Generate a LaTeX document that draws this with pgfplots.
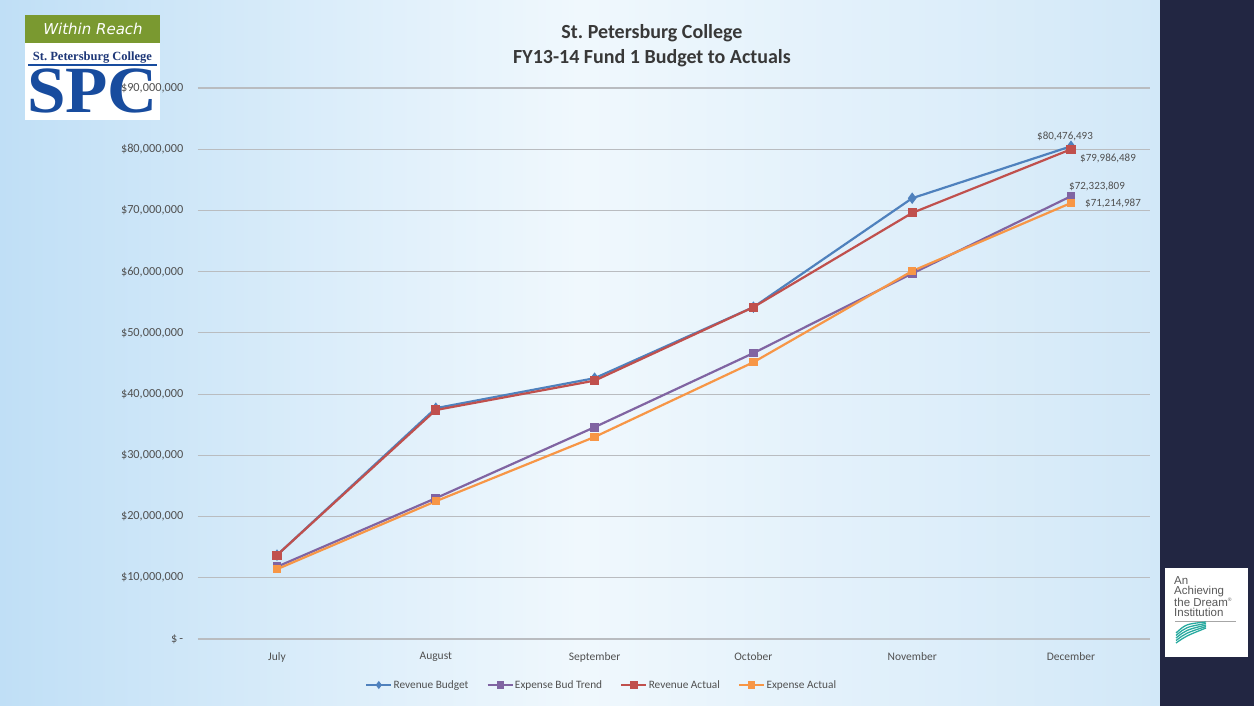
\documentclass[border=0pt]{standalone}
\usepackage{pgfplots}
\pgfplotsset{compat=1.18}
\usepackage{fontspec}
\setmainfont{Carlito}
\newfontfamily\serifb{Liberation Serif}
\newfontfamily\sansi{DejaVu Sans}
\newfontfamily\sansl{Liberation Sans}
\definecolor{rb}{RGB}{79,129,189}
\definecolor{ebt}{RGB}{128,100,162}
\definecolor{ra}{RGB}{192,80,77}
\definecolor{ea}{RGB}{247,150,70}
\definecolor{navy}{RGB}{34,38,66}
\definecolor{bgl}{RGB}{192,223,246}
\definecolor{bgm}{RGB}{240,248,253}
\definecolor{bgr}{RGB}{210,232,248}
\definecolor{txt}{RGB}{80,80,80}
\definecolor{gridgray}{RGB}{185,188,192}
\definecolor{wrgreen}{RGB}{122,153,48}
\definecolor{spcblue}{RGB}{24,76,158}
\definecolor{spcnavy}{RGB}{30,55,120}
\definecolor{teal1}{RGB}{40,170,160}
\begin{document}
\begin{tikzpicture}[x=1pt,y=1pt]
% background
\shade[left color=bgl, right color=bgr, middle color=bgm] (0pt,0pt) rectangle (1160pt,706pt);
\fill[navy] (1160pt,0pt) rectangle (1254pt,706pt);
% top-left logo
\fill[white] (25pt,586pt) rectangle (160pt,663pt);
\fill[wrgreen] (25pt,663pt) rectangle (160pt,691pt);
\node[white, font=\sansi\itshape\fontsize{15}{15}\selectfont] at (93pt,677pt) {Within Reach};
\node[spcnavy, font=\serifb\bfseries\fontsize{12.5}{13}\selectfont] at (92.5pt,648pt) {St.\ Petersburg College};
\draw[spcblue, line width=1.8pt] (28pt,641pt) -- (157pt,641pt);
\node[spcblue, anchor=base, font=\serifb\bfseries\fontsize{66}{66}\selectfont, xscale=1.05, inner sep=0pt] at (92.5pt,593pt) {SPC};
% bottom-right logo
\fill[white] (1165pt,49pt) rectangle (1248pt,138pt);
\node[anchor=north west, align=left, text=black!65, font=\sansl\fontsize{11.5}{10.5}\selectfont, inner sep=0pt] at (1174pt,130pt) {An\\Achieving\\the Dream\textsuperscript{\tiny ®}\\Institution};
\draw[black!35, line width=0.6pt] (1175pt,85pt) -- (1236pt,85pt);
\foreach \k in {0,1,2,3,4}{
  \draw[teal1, line width=1.3pt] (1176pt,63pt+2.5pt*\k) .. controls (1186pt,70pt+3pt*\k) .. (1206pt,78pt+1.5pt*\k);
}
\begin{axis}[
  at={(197.6pt,67pt)}, anchor=south west, scale only axis,
  width=952.8pt, height=551pt,
  xmin=-0.5, xmax=5.5, ymin=0, ymax=90000000,
  clip=false,
  scaled y ticks=false,
  axis line style={draw=none},
  major tick length=0pt,
  xtick={0,1,2,3,4,5},
  xticklabels={July,August,September,October,November,December},
  ytick={0,10000000,20000000,30000000,40000000,50000000,60000000,70000000,80000000,90000000},
  yticklabels={{\$\,-\hspace{6pt}},{\$10,000,000},{\$20,000,000},{\$30,000,000},{\$40,000,000},{\$50,000,000},{\$60,000,000},{\$70,000,000},{\$80,000,000},{\$90,000,000}},
  ymajorgrids,
  grid style={draw=gridgray, line width=1.2pt},
  tick label style={font=\fontsize{11.5}{12}\selectfont, text=txt},
  yticklabel style={xshift=-10.8pt, font=\fontsize{12.3}{13}\selectfont},
  xticklabel style={yshift=-10pt},
  legend columns=4,
  legend style={at={(0.424,-0.0835)}, anchor=center, draw=none, fill=none,
    font=\fontsize{11.3}{12}\selectfont, text=txt,
    nodes={inner sep=1.5pt},
    /tikz/every even column/.append style={column sep=17pt}},
  legend image code/.code={\draw[mark repeat=2, mark phase=2, #1, line width=1.6pt, mark size=2.8pt] plot coordinates {(0pt,0pt) (12.5pt,0pt) (25pt,0pt)};},
]
\addplot[rb, line width=2.2pt, mark=diamond*, mark size=4pt, mark options={solid, fill=rb}]
  coordinates {(0,13700000) (1,37700000) (2,42600000) (3,54200000) (4,72000000) (5,80476493)};
\addlegendentry{Revenue Budget}
\addplot[ebt, line width=2.2pt, mark=square*, mark size=3.3pt, mark options={solid, fill=ebt}]
  coordinates {(0,11800000) (1,23000000) (2,34600000) (3,46700000) (4,59700000) (5,72323809)};
\addlegendentry{Expense Bud Trend}
\addplot[ra, line width=2.2pt, mark=square*, mark size=3.5pt, mark options={solid, fill=ra}]
  coordinates {(0,13700000) (1,37400000) (2,42200000) (3,54200000) (4,69600000) (5,79986489)};
\addlegendentry{Revenue Actual}
\addplot[ea, line width=2.2pt, mark=square*, mark size=3.1pt, mark options={solid, fill=ea}]
  coordinates {(0,11400000) (1,22500000) (2,33000000) (3,45200000) (4,60100000) (5,71214987)};
\addlegendentry{Expense Actual}
\node[anchor=south, text=txt, font=\fontsize{11}{12}\selectfont, inner sep=1pt] at (axis cs:5,80476493) [xshift=-6pt, yshift=4pt] {\$80,476,493};
\node[anchor=west, text=txt, font=\fontsize{11}{12}\selectfont, inner sep=1pt] at (axis cs:5,79986489) [xshift=8pt, yshift=-9pt] {\$79,986,489};
\node[anchor=west, text=txt, font=\fontsize{11}{12}\selectfont, inner sep=1pt] at (axis cs:5,72323809) [xshift=-3pt, yshift=10pt] {\$72,323,809};
\node[anchor=west, text=txt, font=\fontsize{11}{12}\selectfont, inner sep=1pt] at (axis cs:5,71214987) [xshift=13pt, yshift=0pt] {\$71,214,987};
\end{axis}
% title
\node[text=black!78, font=\bfseries\fontsize{20}{25}\selectfont, align=center] at (652pt,660pt) {St.\ Petersburg College\\FY13-14 Fund 1 Budget to Actuals};
\pgfresetboundingbox
\path (0pt,0pt) rectangle (1254pt,706pt);
\end{tikzpicture}
\end{document}
